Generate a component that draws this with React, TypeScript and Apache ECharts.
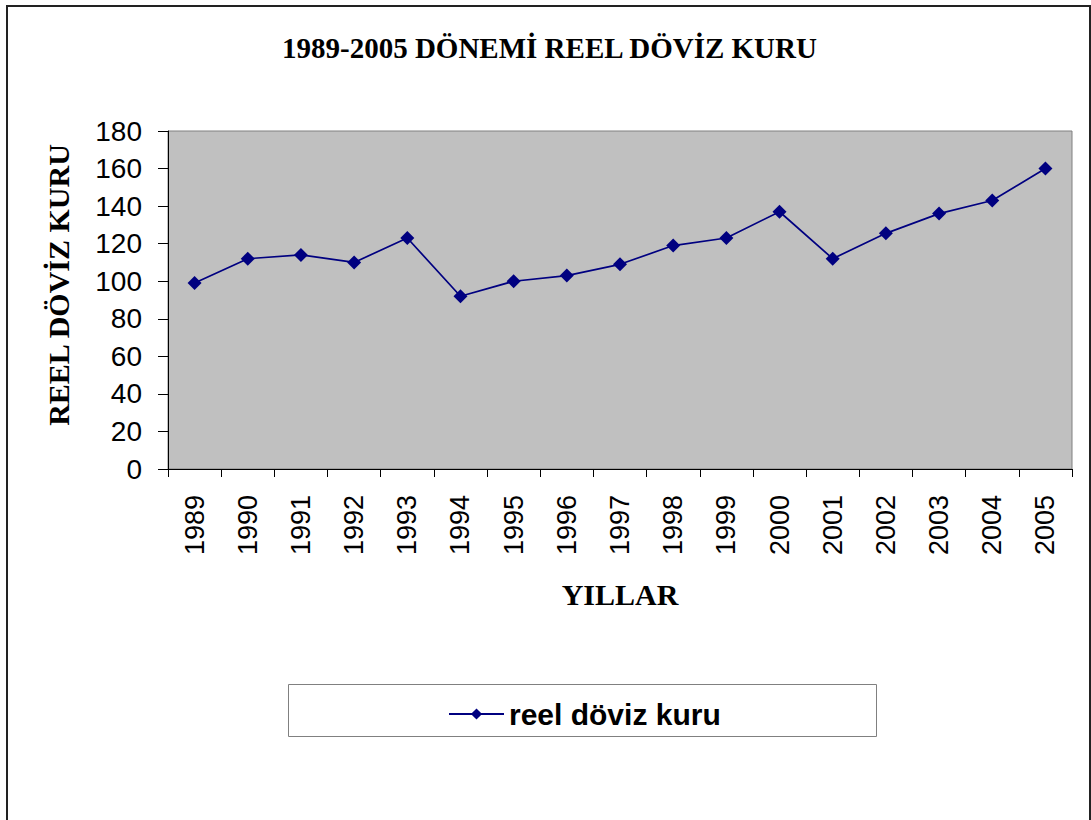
import React, { useEffect, useRef } from "react";
import * as echarts from "echarts";

const years = ["1989","1990","1991","1992","1993","1994","1995","1996","1997","1998","1999","2000","2001","2002","2003","2004","2005"];
const reelDovizKuru = [99, 112, 114, 110, 123, 92, 100, 103, 109, 119, 123, 137, 112, 125.5, 136, 143, 160];
const seriesName = "reel döviz kuru";
const titleText = "1989-2005 DÖNEMİ REEL DÖVİZ KURU";
const yAxisTitle = "REEL DÖVİZ KURU";
const xAxisTitle = "YILLAR";

export default function App() {
  const ref = useRef<HTMLDivElement>(null);
  useEffect(() => {
    if (!ref.current) return;
    const chart = echarts.init(ref.current, undefined, { renderer: "svg" });
    chart.setOption({
      animation: false,
      backgroundColor: "#ffffff",
      title: {
        text: titleText,
        left: 277,
        top: 28,
        textStyle: { fontFamily: "Liberation Serif", fontWeight: 900, fontSize: 29, color: "#000" },
      },
      grid: {
        left: 168,
        right: 19,
        top: 131,
        bottom: 351,
        show: true,
        backgroundColor: "#c0c0c0",
        borderColor: "#808080",
        borderWidth: 1,
      },
      legend: {
        left: 443,
        top: 694,
        itemWidth: 55,
        itemHeight: 14,
        itemGap: 10,
        textStyle: { fontFamily: "Liberation Sans", fontWeight: "bold", fontSize: 30, color: "#000" },
        data: [seriesName],
      },
      xAxis: {
        type: "category",
        data: years,
        boundaryGap: true,
        name: xAxisTitle,
        nameLocation: "middle",
        nameGap: 110,
        nameTextStyle: { fontFamily: "Liberation Serif", fontWeight: "bold", fontSize: 30, color: "#000" },
        axisLine: { lineStyle: { color: "#000", width: 1 } },
        axisTick: { show: true, length: 8, interval: 0, lineStyle: { color: "#000" } },
        axisLabel: { rotate: 90, margin: 26, interval: 0, fontFamily: "Liberation Sans", fontSize: 27, color: "#000" },
        splitLine: { show: false },
      },
      yAxis: {
        type: "value",
        min: 0,
        max: 180,
        interval: 20,
        axisLine: { show: true, lineStyle: { color: "#000", width: 1 } },
        axisTick: { show: true, length: 10, lineStyle: { color: "#000" } },
        axisLabel: { margin: 26, fontFamily: "Liberation Sans", fontSize: 28, color: "#000" },
        splitLine: { show: false },
      },
      graphic: [
        {
          type: "rect",
          z: -10,
          silent: true,
          shape: { x: 7, y: 6, width: 1083, height: 900 },
          style: { fill: "none", stroke: "#222", lineWidth: 2 },
        },
        {
          type: "rect",
          z: 0,
          silent: true,
          shape: { x: 288.5, y: 684.5, width: 588, height: 52 },
          style: { fill: "#fff", stroke: "#808080", lineWidth: 1 },
        },
        {
          type: "text",
          x: 58,
          y: 285,
          rotation: Math.PI / 2,
          silent: true,
          style: {
            text: yAxisTitle,
            fontFamily: "Liberation Serif",
            fontWeight: "bold",
            fontSize: 30,
            fill: "#000",
            align: "center",
            verticalAlign: "middle",
          },
        },
      ],
      series: [
        {
          name: seriesName,
          type: "line",
          data: reelDovizKuru,
          symbol: "diamond",
          symbolSize: 14,
          itemStyle: { color: "#000080" },
          lineStyle: { color: "#000080", width: 1.7 },
        },
      ],
    });
    return () => chart.dispose();
  }, []);
  return <div ref={ref} style={{ position: "absolute", left: 0, top: 0, width: 1091, height: 820 }} />;
}
